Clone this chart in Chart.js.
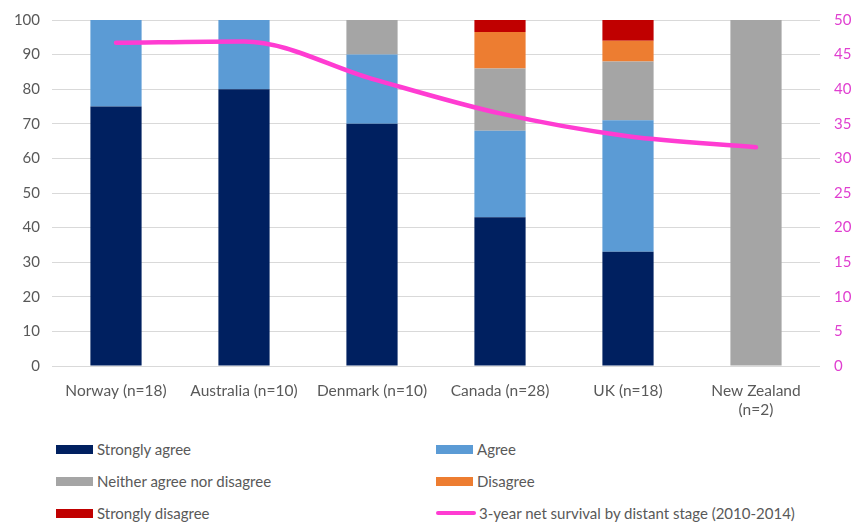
<!DOCTYPE html>
<html>
<head>
<meta charset="utf-8">
<script src="https://cdn.jsdelivr.net/npm/chart.js@4/dist/chart.umd.min.js"></script>
<style>
  body { margin: 0; background: #fff; font-family: Lato, sans-serif; }
  #wrap { position: relative; width: 853px; height: 524px; overflow: hidden; }
  #box { position: absolute; left: 0; top: -3px; width: 853px; height: 433px; }
  #legend { position: absolute; left: 0; top: 438px; width: 853px; }
  .item { position: absolute; height: 22px; display: flex; align-items: center; font-size: 15px; color: #595959; white-space: nowrap; }
  .swatch { width: 37px; height: 9px; margin-right: 4px; }
  .lineSwatch { width: 40px; height: 4px; border-radius: 2px; margin-right: 3px; }
</style>
</head>
<body>
<div id="wrap">
  <div id="box"><canvas id="chart"></canvas></div>
  <div id="legend"></div>
</div>
<script>
// categorias e valores
const categories = ['Norway (n=18)', 'Australia (n=10)', 'Denmark (n=10)', 'Canada (n=28)', 'UK (n=18)', ['New Zealand', '(n=2)']];
const stronglyAgree = [75, 80, 70, 43, 33, 0];
const agree = [25, 20, 20, 25, 38, 0];
const neither = [0, 0, 10, 18, 17, 100];
const disagree = [0, 0, 0, 10.5, 6, 0];
const stronglyDisagree = [0, 0, 0, 3.5, 6, 0];
const survival = [46.7, 46.9, 41.5, 36.5, 33.2, 31.6];

const leftTicks = [0, 10, 20, 30, 40, 50, 60, 70, 80, 90, 100];
const rightTicks = [0, 5, 10, 15, 20, 25, 30, 35, 40, 45, 50];

const textColor = '#595959';
const magenta = '#FF3CD2';

const bar = (label, data, color) => ({
  type: 'bar', label, data, backgroundColor: color,
  yAxisID: 'y', stack: 's', order: 1,
  barPercentage: 0.4, categoryPercentage: 1
});

const datasets = [
  bar('Strongly agree', stronglyAgree, '#002060'),
  bar('Agree', agree, '#5B9BD5'),
  bar('Neither agree nor disagree', neither, '#A5A5A5'),
  bar('Disagree', disagree, '#ED7D31'),
  bar('Strongly disagree', stronglyDisagree, '#C00000'),
  {
    type: 'line', label: '3-year net survival by distant stage (2010-2014)',
    data: survival, borderColor: magenta, backgroundColor: magenta,
    borderWidth: 4.5, pointRadius: 0, cubicInterpolationMode: 'monotone',
    yAxisID: 'y1', order: 0, borderCapStyle: 'round'
  }
];

const chart = new Chart(document.getElementById('chart'), {
  data: { labels: categories, datasets },
  options: {
    responsive: true,
    maintainAspectRatio: false,
    animation: false,
    layout: { padding: { top: 11, left: 0, right: 0 } },
    plugins: { legend: { display: false }, tooltip: { enabled: false } },
    scales: {
      x: {
        stacked: true,
        grid: { display: false },
        border: { display: false },
        ticks: { color: textColor, font: { family: 'Lato', size: 15.5 }, maxRotation: 0, padding: 8 },
        afterFit: (axis) => { axis.height = 433 - 369; }
      },
      y: {
        stacked: true, position: 'left', min: 0, max: 100,
        afterBuildTicks: (axis) => { axis.ticks = leftTicks.map(v => ({ value: v })); },
        grid: { color: '#D9D9D9', lineWidth: 1, drawTicks: false },
        border: { display: false },
        ticks: { color: textColor, font: { family: 'Lato', size: 15 }, padding: 12 },
        afterFit: (axis) => { axis.width = 52; }
      },
      y1: {
        position: 'right', min: 0, max: 50,
        afterBuildTicks: (axis) => { axis.ticks = rightTicks.map(v => ({ value: v })); },
        grid: { display: false, drawTicks: false },
        border: { display: false },
        ticks: { color: '#E03FD0', font: { family: 'Lato', size: 15 }, padding: 14 },
        afterFit: (axis) => { axis.width = 33; }
      }
    }
  }
});

// legenda em duas colunas, montada a partir dos datasets
const legend = document.getElementById('legend');
chart.data.datasets.forEach((ds, i) => {
  const item = document.createElement('div');
  item.className = 'item';
  item.style.left = (i % 2 === 0 ? 56 : 436) + 'px';
  item.style.top = (Math.floor(i / 2) * 32) + 'px';
  const sw = document.createElement('span');
  sw.className = ds.type === 'line' ? 'lineSwatch' : 'swatch';
  sw.style.background = ds.type === 'line' ? ds.borderColor : ds.backgroundColor;
  const txt = document.createElement('span');
  txt.textContent = ds.label;
  item.appendChild(sw);
  item.appendChild(txt);
  legend.appendChild(item);
});
</script>
</body>
</html>
